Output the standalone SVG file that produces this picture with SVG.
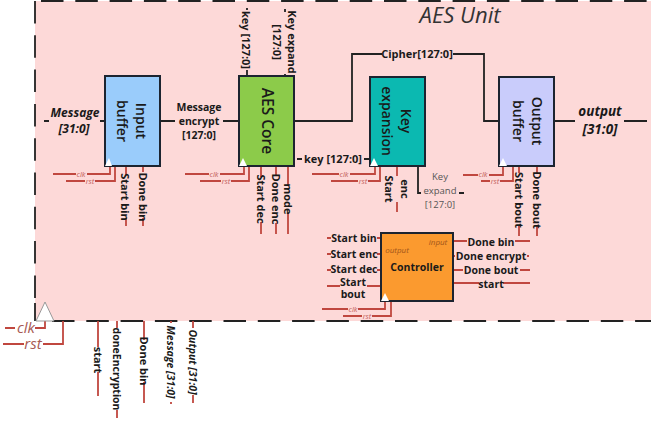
<svg xmlns="http://www.w3.org/2000/svg" width="651" height="425" viewBox="0 0 651 425">
<style>
text{font-family:"Open Sans","Noto Sans","DejaVu Sans",sans-serif;fill:#1a1a1a;text-anchor:middle}
.b{font-weight:700;font-size:11px}
.s{font-weight:700;font-size:10.5px}
.i{font-style:italic;font-weight:700;font-size:12px}
.n{font-weight:600;font-size:14px}
.cs{font-style:italic;font-size:7.5px;fill:#c4605a}
.tag{font-style:italic;font-size:8px;fill:#a3561a}
.big{font-style:italic;font-size:15px;fill:#a85a54}
.g{font-size:9.5px;fill:#555}
.box{stroke:#1c2430;stroke-width:2}
.k{fill:none;stroke:#222;stroke-width:1.8}
.r{fill:none;stroke:#c0473f;stroke-width:1.8}
.tri{fill:#fff;stroke:none}
</style>
<rect x="35" y="1" width="616" height="320" fill="#fdd9d8"/>
<path d="M41 1H651M35 1V303M52 321H651" fill="none" stroke="#222" stroke-width="1.8" stroke-dasharray="22.5 11.8"/>

<g id="connectors">
<path class="k" d="M44 121H49M100 121H105M160 121H175M223 121H239M294 121H352V54H382M453 54H484V121H499M554 121H575M624 121H647"/>
<path class="k" d="M247 76V70M247 10V8M285 76V74M285 12V9M297 159H302M364 159H370M418 166V193H421M459 193H464"/>
<path class="r" d="M53 174H76M87 174H110V166M66 181H85M95 181H115V166M126 166V175M126 218V226M143 166V172M143 218V226"/>
<path class="r" d="M185 174H209M220 174H244V166M200 181H221M231 181H249V166M261 166V177M261 222V234M276 166V175M276 223V234M288 166V185M288 213V234"/>
<path class="r" d="M312 174H339M350 174H375V166M331 181H358M368 181H380V166M397 166V176M397 202V212"/>
<path class="r" d="M463 175H478M489 175H503V166M481 181H490M500 181H513V166M519 166V173M537 166V173"/>
<path class="r" d="M519 226V236M537 226V236"/>
<path class="r" d="M327 238H331M377 238H381M327 254H331M377 254H381M327 270H331M377 270H381M327 286H340M367 286H381"/>
<path class="r" d="M453 241H467M515 241H530M453 256H455M527 256H529M453 270H463M520 270H530M453 283H479M503 283H530"/>
<path class="r" d="M322 309H348M358 309H385V301M343 316H362M372 316H391V301"/>
<path class="r" d="M5 328H15M35 328H45V321M3 344H24M43 344H63V321M98 321V347M98 372V396M117 321V328M117 410V418M144 321V340M144 382V403M171 321V323M171 402V404M193 321V328M193 395V403"/>
<path class="k" d="M35 303V321"/>
</g>

<g id="input-buffer">
<rect class="box" x="105" y="76" width="55" height="90" fill="#9accfb"/>
<path class="tri" d="M109 158L105 166H112Z"/>
<text class="n" transform="translate(136,121) rotate(90)">Input</text>
<text class="n" transform="translate(117,121) rotate(90)">buffer</text>
</g>
<g id="aes-core">
<rect class="box" x="239" y="76" width="55" height="90" fill="#8ccb4a"/>
<path class="tri" d="M243 158L239 166H247Z"/>
<text class="n" style="font-size:15.5px" transform="translate(262,121) rotate(90)">AES Core</text>
</g>
<g id="key-expansion">
<rect class="box" x="370" y="77" width="55" height="89" fill="#0bb9b1"/>
<path class="tri" d="M374 158L370 166H378Z"/>
<text class="n" transform="translate(401,121) rotate(90)">Key</text>
<text class="n" transform="translate(382,121) rotate(90)">expansion</text>
</g>
<g id="output-buffer">
<rect class="box" x="499" y="77" width="55" height="89" fill="#c9ccfb"/>
<path class="tri" d="M503 158L499 166H507Z"/>
<text class="n" transform="translate(532,121) rotate(90)">Output</text>
<text class="n" transform="translate(513,121) rotate(90)">buffer</text>
</g>
<g id="controller">
<rect class="box" x="381" y="233" width="72" height="68" fill="#fb9a2f"/>
<path class="tri" d="M385 293L381 301H389Z"/>
<text class="b" x="417" y="271" style="font-size:10.5px">Controller</text>
<text class="tag" x="397" y="253">output</text>
<text class="tag" x="438" y="245">input</text>
</g>

<g id="labels">
<text x="460" y="23" style="font-style:italic;font-size:22px;fill:#333">AES Unit</text>
<text class="i" x="75" y="117">Message</text><text class="i" x="74" y="133">[31:0]</text>
<text class="s" x="199" y="111">Message</text><text class="s" x="199" y="125">encrypt</text><text class="s" x="199" y="139">[127:0]</text>
<text class="b" transform="translate(242,40) rotate(90)">key [127:0]</text>
<text class="b" transform="translate(288,42) rotate(90)">Key expand</text>
<text class="b" transform="translate(273,42) rotate(90)">[127:0]</text>
<text class="b" x="333" y="163">key [127:0]</text>
<text class="b" x="417" y="58">Cipher[127:0]</text>
<text class="i" x="600" y="116" style="font-size:13.5px">output</text><text class="i" x="600" y="134" style="font-size:13.5px">[31:0]</text>
<text class="g" x="440" y="180">Key</text><text class="g" x="440" y="194">expand</text><text class="g" x="440" y="208">[127:0]</text>

<text class="cs" x="81" y="177">clk</text><text class="cs" x="90" y="184">rst</text>
<text class="cs" x="214" y="177">clk</text><text class="cs" x="226" y="184">rst</text>
<text class="cs" x="344" y="177">clk</text><text class="cs" x="363" y="184">rst</text>
<text class="cs" x="483" y="177">clk</text><text class="cs" x="495" y="184">rst</text>
<text class="cs" x="353" y="312">clk</text><text class="cs" x="367" y="319">rst</text>

<text class="b" transform="translate(121,197) rotate(90)">Start bin</text>
<text class="b" transform="translate(139,197) rotate(90)">Done bin</text>
<text class="b" transform="translate(257,199) rotate(90)">Start dec</text>
<text class="b" transform="translate(272,199) rotate(90)">Done enc</text>
<text class="b" transform="translate(284,199) rotate(90)">mode</text>
<text class="b" transform="translate(385,189) rotate(90)">Start</text>
<text class="b" transform="translate(401,189) rotate(90)">enc</text>
<text class="b" transform="translate(515,200) rotate(90)">Start bout</text>
<text class="b" transform="translate(533,200) rotate(90)">Done bout</text>

<text class="s" x="354" y="242">Start bin</text>
<text class="s" x="354" y="258">Start enc</text>
<text class="s" x="354" y="273">Start dec</text>
<text class="s" x="353" y="286">Start</text><text class="s" x="353" y="298">bout</text>
<text class="s" x="491" y="246">Done bin</text>
<text class="s" x="491" y="260">Done encrypt</text>
<text class="s" x="491" y="274">Done bout</text>
<text class="s" x="491" y="288">start</text>

<text class="big" x="26" y="333">clk</text>
<text class="big" x="33" y="349">rst</text>
<text class="b" transform="translate(94,360) rotate(90)">start</text>
<text class="s" transform="translate(113,369) rotate(90)">doneEncryption</text>
<text class="b" transform="translate(140,361) rotate(90)">Done bin</text>
<text class="i" style="font-size:10.5px" transform="translate(167,362) rotate(90)">Message [31:0]</text>
<text class="i" style="font-size:10.5px" transform="translate(189,362) rotate(90)">Output [31:0]</text>
</g>
<path d="M45 302L36 321H54Z" fill="#fff" stroke="#999" stroke-width="1"/>
</svg>
